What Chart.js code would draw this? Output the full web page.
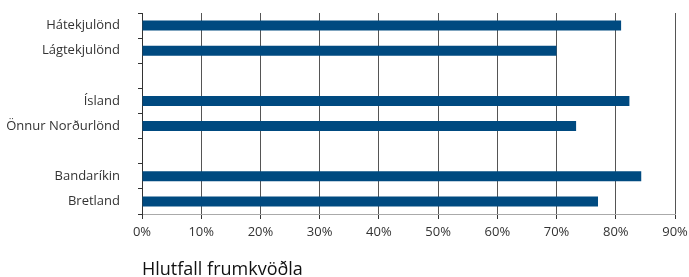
<!DOCTYPE html>
<html>
<head>
<meta charset="utf-8">
<script src="https://cdn.jsdelivr.net/npm/chart.js@4"></script>
<style>
  html, body { margin: 0; padding: 0; background: #fff; }
  #wrap { width: 689px; height: 277px; }
</style>
</head>
<body>
<div id="wrap"><canvas id="frumkvodlar" width="689" height="277"></canvas></div>
<script>
// Flokkar (tómir flokkar mynda bil milli hópa)
const flokkar = ["Hátekjulönd", "Lágtekjulönd", "", "Ísland", "Önnur Norðurlönd", "", "Bandaríkin", "Bretland"];
// Hlutfall frumkvöðla (%)
const hlutfall = [80.9, 70.0, null, 82.3, 73.3, null, 84.3, 77.0];
const xTicks = [0, 10, 20, 30, 40, 50, 60, 70, 80, 90];

const font = "'Open Sans', 'DejaVu Sans', sans-serif";

new Chart(
    document.getElementById('frumkvodlar'),
    {
        type: 'bar',
        data: {
            labels: flokkar,
            datasets: [{
                data: hlutfall,
                backgroundColor: '#004a80',
                barPercentage: 0.4,
                categoryPercentage: 1
            }]
        },
        options: {
            indexAxis: 'y',
            responsive: false,
            animation: false,
            layout: { padding: { top: 13, right: 0, left: 0, bottom: 0 } },
            scales: {
                x: {
                    min: 0,
                    max: 90,
                    afterBuildTicks: s => { s.ticks = xTicks.map(v => ({ value: v })); },
                    ticks: {
                        color: '#333',
                        font: { family: font, size: 13 },
                        padding: 5,
                        maxRotation: 0,
                        callback: v => v + '%'
                    },
                    grid: {
                        color: '#555',
                        lineWidth: 1,
                        drawTicks: true,
                        tickLength: 5,
                        tickColor: '#333'
                    },
                    border: { color: '#aaa', width: 1 },
                    title: {
                        display: true,
                        text: 'Hlutfall frumkvöðla',
                        align: 'start',
                        color: '#111',
                        font: { family: font, size: 18 },
                        padding: { top: 22, bottom: -4 }
                    },
                    afterFit: s => {
                        s.height = 63;
                        s.paddingRight = 14;
                    }
                },
                y: {
                    ticks: {
                        color: '#333',
                        font: { family: font, size: 13 },
                        padding: 18
                    },
                    grid: {
                        offset: true,
                        drawOnChartArea: false,
                        drawTicks: true,
                        tickLength: 4,
                        tickColor: '#333'
                    },
                    border: { color: '#333', width: 1 },
                    afterFit: s => {
                        s.width = 142;
                        s.paddingTop = 0;
                        s.paddingBottom = 0;
                    }
                }
            },
            plugins: {
                legend: { display: false },
                tooltip: { enabled: false }
            }
        }
    }
);
</script>
</body>
</html>
